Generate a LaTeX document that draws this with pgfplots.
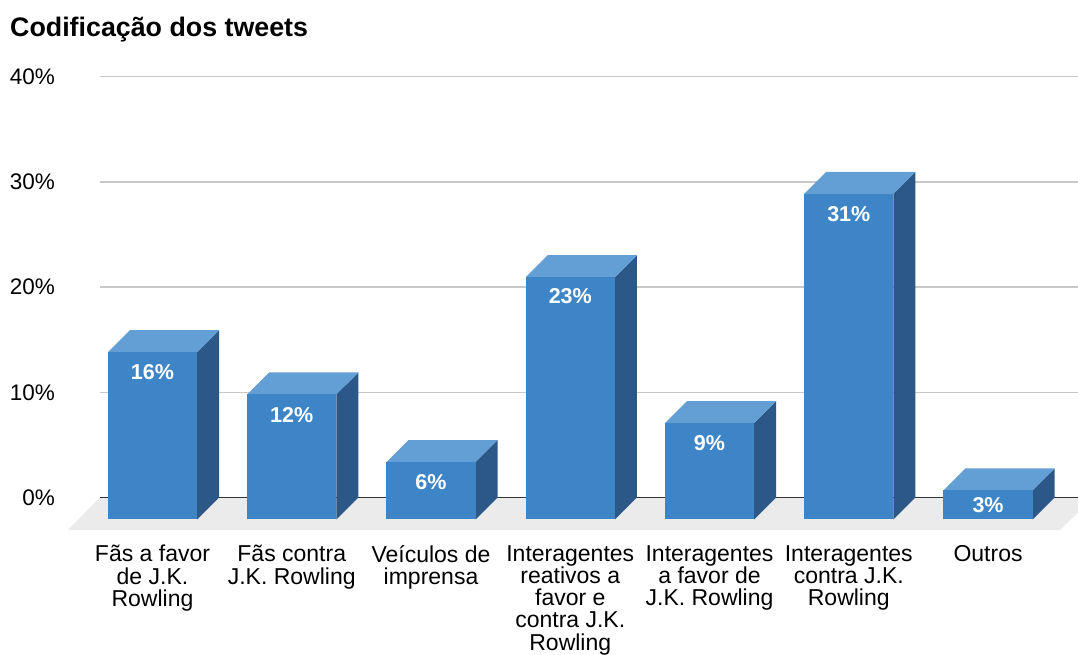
\documentclass[border=0pt]{standalone}
\usepackage{fontspec}
\setmainfont{Liberation Sans}
\usepackage{pgfplots}
\usepackage{pgfplotstable}
\pgfplotsset{compat=1.18}
\definecolor{barfront}{HTML}{3D85C6}
\definecolor{bartop}{HTML}{639ED5}
\definecolor{barside}{HTML}{2B5886}
\definecolor{floorc}{HTML}{EBEBEB}
\definecolor{gridc}{HTML}{C8C8C8}
\definecolor{zeroc}{HTML}{333333}

\pgfplotstableread{
x v ly lab
0 15.90 11.91 16
1 11.89 7.85 12
2 5.46 1.50 6
3 23.03 19.17 23
4 9.16 5.17 9
5 30.96 26.97 31
6 2.77 -0.71 3
}\bardata

\newcommand{\threedbar}[2]{%
  \pgfmathsetmacro\xa{#1-0.32}%
  \pgfmathsetmacro\xb{#1+0.32}%
  \pgfmathsetmacro\xc{#1+0.4783}%
  \pgfmathsetmacro\xd{#1-0.1617}%
  \pgfmathsetmacro\yt{#2-2.09}%
  \edef\temp{%
    \noexpand\addplot[fill=barside, draw=none, forget plot] coordinates {(\xb,-2.09) (\xc,0) (\xc,#2) (\xb,\yt)};
    \noexpand\addplot[fill=bartop, draw=none, forget plot] coordinates {(\xa,\yt) (\xb,\yt) (\xc,#2) (\xd,#2)};
    \noexpand\addplot[fill=barfront, draw=none, forget plot] coordinates {(\xa,-2.09) (\xb,-2.09) (\xb,\yt) (\xa,\yt)};
  }\temp
}

\begin{document}
\begin{tikzpicture}
\begin{axis}[
  at={(0,0)}, anchor=south west,
  scale only axis,
  width=978bp, height=420.8bp,
  xmin=-0.377, xmax=6.646,
  ymin=0, ymax=40,
  clip=false,
  axis line style={draw=none},
  tick style={draw=none},
  major tick length=0pt,
  ytick={0,10,20,30,40},
  yticklabels={0\%,10\%,20\%,30\%,40\%},
  yticklabel style={anchor=east, inner sep=0pt, xshift=-45bp, font=\fontsize{22.5bp}{23bp}\selectfont},
  ymajorgrids,
  major grid style={draw=gridc, line width=1.3bp},
  xtick={0,...,6},
  xticklabels={{Fãs a favor\\de J.K.\\Rowling},{Fãs contra\\J.K. Rowling},{Veículos de\\imprensa},{Interagentes\\reativos a\\favor e\\contra J.K.\\Rowling},{Interagentes\\a favor de\\J.K. Rowling},{Interagentes\\contra J.K.\\Rowling},{Outros}},
  xticklabel style={align=center, anchor=north, inner sep=0pt, yshift=-47.5bp, font=\fontsize{23bp}{22.3bp}\selectfont},
]
\addplot[fill=floorc, draw=none, forget plot] coordinates {(-0.607,-3.09) (6.517,-3.09) (6.754,0) (-0.377,0)};
\addplot[color=zeroc, line width=1.3bp, forget plot] coordinates {(-0.377,0) (6.646,0)};
\pgfplotsforeachungrouped \i in {0,...,6}{%
  \pgfplotstablegetelem{\i}{v}\of\bardata
  \let\vv\pgfplotsretval
  \threedbar{\i}{\vv}%
}
\addplot[only marks, mark=*, mark size=0pt, mark options={draw=none, fill=none},
  point meta=explicit symbolic,
  nodes near coords={\pgfplotspointmeta\%},
  every node near coord/.append style={anchor=center, text=white, inner sep=0pt, font=\bfseries\fontsize{21.5bp}{21.5bp}\selectfont}]
  table[x=x, y=ly, meta=lab] {\bardata};
\end{axis}
\node[anchor=base west, inner sep=0pt, font=\bfseries\fontsize{26.8bp}{27bp}\selectfont] at (-90bp,460.5bp) {Codificação dos tweets};
\pgfresetboundingbox
\path[use as bounding box] (-100bp,-157.5bp) rectangle (978bp,497.5bp);
\end{tikzpicture}
\end{document}
